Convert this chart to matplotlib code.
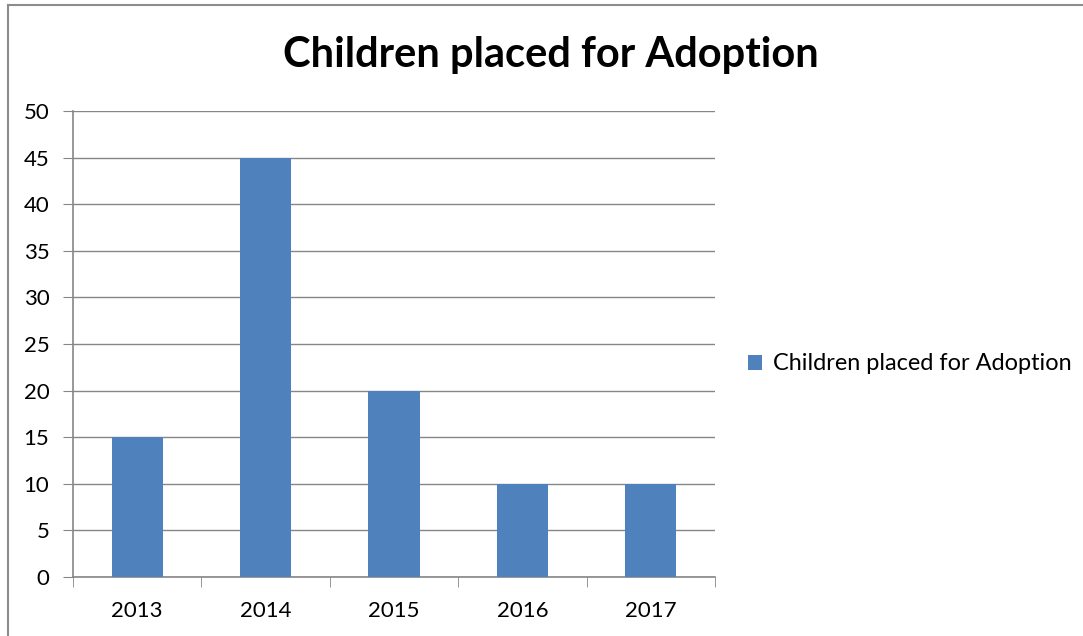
import matplotlib.pyplot as plt
from matplotlib.lines import Line2D

plt.rcParams['font.family'] = ['Lato', 'DejaVu Sans']

# chart data
years = ['2013', '2014', '2015', '2016', '2017']
children = [15, 45, 20, 10, 10]
series_name = 'Children placed for Adoption'
y_ticks = [0, 5, 10, 15, 20, 25, 30, 35, 40, 45, 50]

W, H = 1083, 636
fig = plt.figure(figsize=(W / 100, H / 100), dpi=100)

# outer chart border (only left and top edges show in the reference)
border = dict(transform=fig.transFigure, color='#8c8c8c', linewidth=1.5)
fig.lines.append(Line2D([8 / W, 8 / W], [0, 1 - 5 / H], **border))
fig.lines.append(Line2D([8 / W, 1], [1 - 5 / H, 1 - 5 / H], **border))

left, right, top, bottom = 73, 715, 111, 577
ax = fig.add_axes([left / W, 1 - bottom / H, (right - left) / W, (bottom - top) / H])

x = range(len(years))
ax.bar(x, children, width=0.4, color='#4f81bd', zorder=3, label=series_name)

ax.set_xlim(-0.5, len(years) - 0.5)
ax.set_ylim(0, 50)
ax.set_yticks(y_ticks)
ax.set_xticks(list(x))
ax.set_xticklabels(years)
ax.set_xticks([i - 0.5 for i in range(len(years) + 1)], minor=True)

ax.grid(axis='y', color='#868686', linewidth=1, zorder=0)
for s in ['top', 'right']:
    ax.spines[s].set_visible(False)
for s in ['left', 'bottom']:
    ax.spines[s].set_color('#868686')
    ax.spines[s].set_linewidth(1.2)

ax.tick_params(axis='y', length=7, color='#868686', labelsize=16, pad=10)
ax.tick_params(axis='x', which='major', length=0, labelsize=16, pad=17)
ax.tick_params(axis='x', which='minor', length=7, color='#868686')

fig.text(551 / W, 1 - 55 / H, 'Children placed for Adoption', ha='center', va='center',
         fontsize=30, fontweight='bold')

ax.legend(loc='center left', bbox_to_anchor=(727 / W, 1 - 364 / H), bbox_transform=fig.transFigure,
          frameon=False, fontsize=16.9, handlelength=0.6, handleheight=0.6, handletextpad=0.45)

fig.savefig('out.png', dpi=100)
